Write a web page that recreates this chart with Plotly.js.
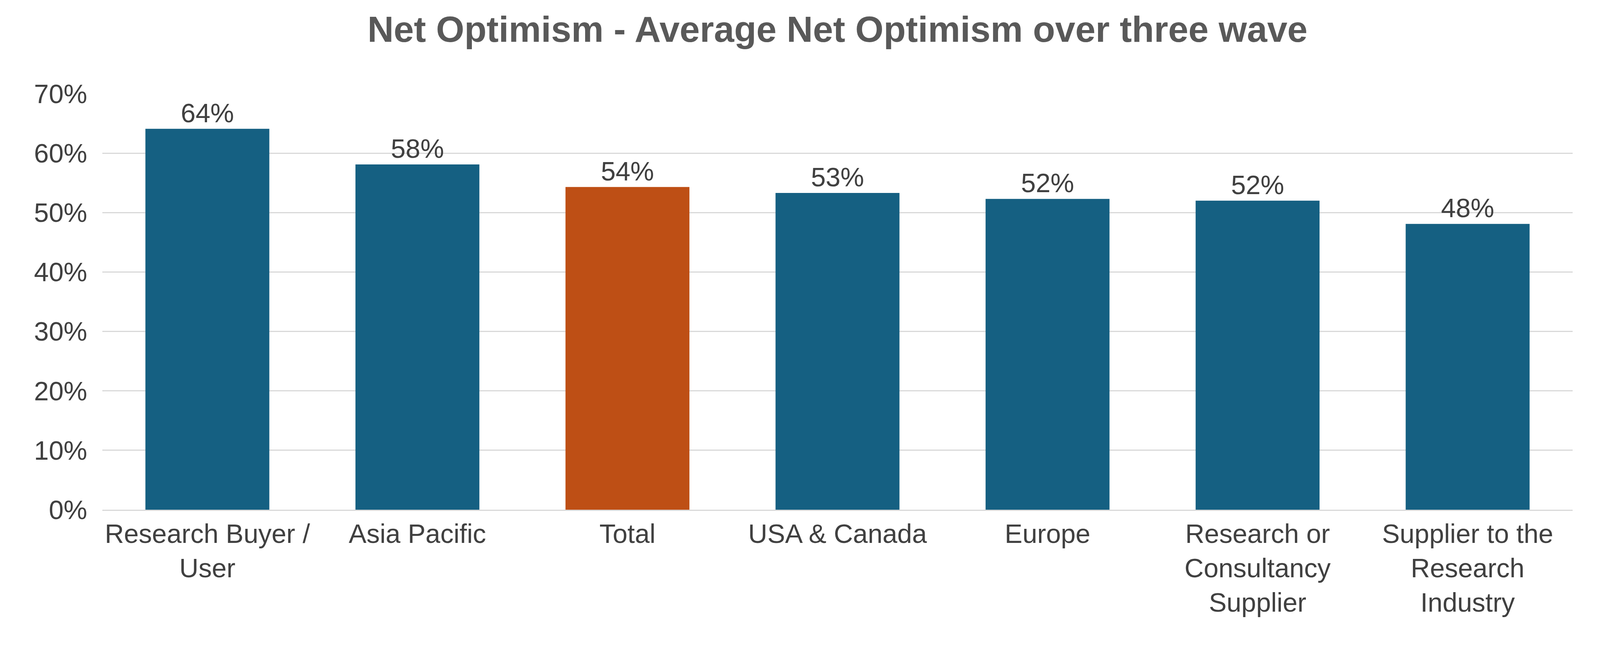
<!DOCTYPE html>
<html><head><meta charset="utf-8">
<script src="https://cdn.plot.ly/plotly-3.0.1.min.js"></script>
<style>html,body{margin:0;padding:0;background:#fff;overflow:hidden}#c{width:100vw;height:100vh}</style>
</head><body><div id="c"></div>
<script>
const categories = ["Research Buyer /<br>User","Asia Pacific","Total","USA & Canada","Europe","Research or<br>Consultancy<br>Supplier","Supplier to the<br>Research<br>Industry"];
const values = [0.641, 0.581, 0.543, 0.533, 0.523, 0.520, 0.481];
const labels = ["64%","58%","54%","53%","52%","52%","48%"];
const colors = categories.map(c => c === "Total" ? "#BE4F15" : "#156082");
Plotly.newPlot("c", [{
  type: "bar", x: categories, y: values, text: labels, textposition: "outside",
  marker: {color: colors}, cliponaxis: false,
  textfont: {family: "Liberation Sans, Arial", size: 68, color: "#404040"},
  hoverinfo: "skip"
}], {
  autosize: true,
  margin: {l: 262, r: 70, t: 240, b: 372},
  title: {text: "<b>Net Optimism - Average Net Optimism over three wave</b>", x: 0.5, xref: "paper", y: 0.975, yanchor: "top",
    font: {family: "Liberation Sans, Arial", size: 93, color: "#595959"}},
  bargap: 0.41,
  xaxis: {tickfont: {family: "Liberation Sans, Arial", size: 68, color: "#404040"}, showline: true, linecolor: "#D9D9D9", linewidth: 3, ticks: ""},
  yaxis: {range: [0, 0.7], dtick: 0.1, tickformat: ".0%", gridcolor: "#D9D9D9", gridwidth: 3, zeroline: false,
    tickfont: {family: "Liberation Sans, Arial", size: 68, color: "#404040"}, ticklen: 0, ticksuffix: "  "},
  showlegend: false,
  paper_bgcolor: "#fff", plot_bgcolor: "#fff"
}, {displayModeBar: false, responsive: true});
</script></body></html>
